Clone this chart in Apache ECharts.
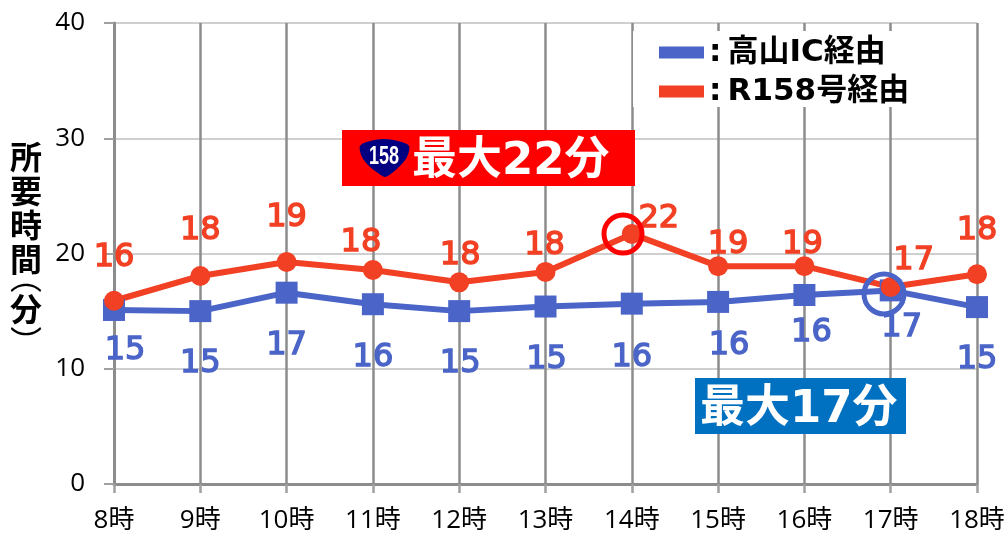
<!DOCTYPE html>
<html>
<head>
<meta charset="utf-8">
<style>
html,body{margin:0;padding:0;background:#fff;}
#chart{width:1005px;height:534px;}
</style>
<script src="https://cdn.jsdelivr.net/npm/echarts@6/dist/echarts.min.js"></script>
</head>
<body>
<div id="chart"></div>
<script>
var hours = ['8時','9時','10時','11時','12時','13時','14時','15時','16時','17時','18時'];
var takayamaValues = [15.1,15.0,16.6,15.6,15.0,15.4,15.65,15.8,16.4,16.8,15.35];
var r158Values = [15.9,18.05,19.26,18.57,17.5,18.4,21.7,18.9,18.9,17.1,18.2];
// 図の表示ラベル(丸め方が値と一致しないものがあるので別持ち)
var takayamaLabels = ['15','15','17','16','15','15','16','16','16','17','15'];
var r158Labels = ['16','18','19','18','18','18','22','19','19','17','18'];
var takayamaOffsets = [[11,41],[0,53],[0,53],[0,53],[1,53],[1,53],[0,54],[11,44],[7,38],[11,37],[0,53]];
var r158Offsets = [[0,-43],[0,-45],[0,-44],[-12,-27],[1,-27],[-1,-26],[27,-15],[10,-21],[-2,-21],[23,-26],[0,-44]];

var BLUE = '#4a64c8';
var RED = '#f24024';
var FONT = '"DejaVu Sans","Noto Sans CJK JP",sans-serif';
var AXIS_FONT = '"Open Sans","Noto Sans CJK JP",sans-serif';
var JP_FONT = '"Noto Sans CJK JP",sans-serif';

function points(values, labels, offsets) {
	return values.map(function(v, i) {
		return { value: v, label: { formatter: labels[i], offset: offsets[i] } };
	});
}
function seriesLabel(color) {
	return {
		show: true,
		position: 'inside',
		color: color,
		fontFamily: FONT,
		fontSize: 32,
		textBorderColor: color,
		textBorderWidth: 1.4
	};
}
function banner(x, y, w, h, color, text, textX) {
	return [{
		type: 'rect', z: 5,
		shape: { x: x, y: y, width: w, height: h },
		style: { fill: color }
	}, {
		type: 'text', z: 6, x: textX, y: y + h / 2 + 4,
		style: { text: text, fill: '#fff', font: 'bold 45px ' + FONT, verticalAlign: 'middle', align: 'left' }
	}];
}
function ring(cx, cy, r, color) {
	return {
		type: 'circle', z: 7,
		shape: { cx: cx, cy: cy, r: r },
		style: { fill: 'none', stroke: color, lineWidth: 5 }
	};
}

var chart = echarts.init(document.getElementById('chart'));
chart.setOption({
	animation: false,
	backgroundColor: '#fff',
	grid: { left: 114, top: 23, width: 863, height: 461, outerBoundsMode: 'none' },
	legend: {
		left: 659, top: 37,
		padding: 0,
		orient: 'vertical',
		itemWidth: 45, itemHeight: 12, itemGap: 8,
		selectedMode: false,
		formatter: function(name) { return ':\u2009' + name; },
		textStyle: { color: '#000', fontFamily: FONT, fontSize: 31, fontWeight: 'bold' },
		data: [
			{ name: '高山IC経由', icon: 'rect', itemStyle: { color: BLUE } },
			{ name: 'R158号経由', icon: 'rect', itemStyle: { color: RED } }
		]
	},
	xAxis: {
		type: 'category',
		boundaryGap: false,
		data: hours,
		axisLine: { lineStyle: { color: '#8c8c8c', width: 3 } },
		axisTick: { show: true, length: 9, lineStyle: { color: '#a0a0a0', width: 2.5 } },
		axisLabel: { color: '#000', fontFamily: AXIS_FONT, fontSize: 26, margin: 24, hideOverlap: false, interval: 0 },
		splitLine: { show: true, lineStyle: { color: '#8c8c8c', width: 2.5 } }
	},
	yAxis: {
		type: 'value',
		min: 0, max: 40, interval: 10,
		// 縦書きの括弧はグリフが字面の片側に寄るので行の高さで位置を合わせる
		name: '{c|所}\n{c|要}\n{c|時}\n{c|間}\n{o|︵}\n{s| }\n{c|分}\n{e|︶}',
		nameLocation: 'middle',
		nameRotate: 0,
		nameGap: 72,
		nameTextStyle: {
			padding: [0, 0, 9, 0],
			rich: {
				c: { color: '#000', fontFamily: JP_FONT, fontSize: 32, fontWeight: 'bold', lineHeight: 34 },
				o: { color: '#000', fontFamily: JP_FONT, fontSize: 32, lineHeight: 2 },
				s: { fontSize: 10, lineHeight: 14 },
				e: { color: '#000', fontFamily: JP_FONT, fontSize: 32, lineHeight: 32 }
			}
		},
		axisLine: { show: true, lineStyle: { color: '#8c8c8c', width: 3 } },
		axisTick: { show: true, length: 10, lineStyle: { color: '#a0a0a0', width: 2 } },
		axisLabel: { color: '#000', fontFamily: AXIS_FONT, fontSize: 26, margin: 29 },
		splitLine: { show: true, lineStyle: { color: '#bfbfbf', width: 1.5 } }
	},
	series: [{
		name: '高山IC経由',
		type: 'line',
		data: points(takayamaValues, takayamaLabels, takayamaOffsets),
		symbol: 'rect', symbolSize: 22,
		lineStyle: { color: BLUE, width: 6 },
		itemStyle: { color: BLUE },
		label: seriesLabel(BLUE)
	}, {
		name: 'R158号経由',
		type: 'line',
		data: points(r158Values, r158Labels, r158Offsets),
		symbol: 'circle', symbolSize: 20,
		lineStyle: { color: RED, width: 6 },
		itemStyle: { color: RED },
		label: seriesLabel(RED)
	}],
	graphic: [{
		// 凡例の下地
		type: 'rect', z: 1,
		shape: { x: 633, y: 31, width: 342, height: 76 },
		style: { fill: '#fff' }
	}].concat(
		banner(342, 130, 293, 56, '#ff0000', '最大22分', 412),
		banner(695, 378, 211, 56, '#0070c0', '最大17分', 700),
		[{
			// 国道158号の標識
			type: 'polygon', z: 6,
			shape: {
				points: [[360,146],[370,141],[384,139],[398,141],[409,146],[407,157],[400,166],[392,173],[385,177],[378,173],[369,166],[362,157]],
				smooth: 0.3
			},
			style: { fill: '#000080' }
		}, {
			type: 'text', z: 7, x: 384, y: 157, scaleX: 0.72,
			style: { text: '158', fill: '#fff', font: 'bold 25px "Liberation Sans",sans-serif', align: 'center', verticalAlign: 'middle' }
		},
		ring(623, 234, 19, '#ff0000'),
		ring(884, 294, 20, BLUE)]
	)
});
</script>
</body>
</html>
